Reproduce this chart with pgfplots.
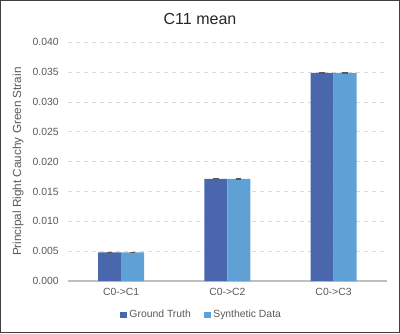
\documentclass[border=0pt]{standalone}
\usepackage{pgfplots}
\pgfplotsset{compat=1.18}
\usepackage{fontspec}
\setmainfont{Liberation Sans}
\definecolor{gt}{HTML}{4A66AC}
\definecolor{sd}{HTML}{5FA0D5}
\definecolor{txt}{HTML}{595959}
\definecolor{grd}{HTML}{D9D9D9}
\definecolor{axl}{HTML}{BFBFBF}
\begin{document}
\begin{tikzpicture}[x=1pt,y=1pt]
\useasboundingbox (0,0) rectangle (300,249.75);
\draw[black!75, line width=0.75pt] (0.4,0.4) rectangle (299.6,249.35);
\node[font=\fontsize{12}{14}\selectfont, text=black!85] at (150,235.5) {C11 mean};
\begin{axis}[
  at={(51pt,39pt)}, anchor=south west,
  scale only axis, width=239pt, height=179pt,
  ybar, bar width=0.216,
  ymin=0, ymax=0.040, ytick={0,0.005,...,0.040},
  xmin=-0.5, xmax=2.5,
  xtick={0,1,2}, xticklabels={C0->C1,C0->C2,C0->C3},
  major tick length=0pt,
  axis x line=bottom, axis y line=left,
  x axis line style={axl, line width=0.8pt, -},
  y axis line style={draw=none},
  ymajorgrids, grid style={grd, dashed, line width=0.6pt},
  yticklabel style={/pgf/number format/fixed, /pgf/number format/fixed zerofill, /pgf/number format/precision=3, /pgf/number format/assume math mode=true, xshift=-3.5pt},
  scaled y ticks=false,
  tick label style={font=\fontsize{7.8}{9}\selectfont, text=txt},
  xticklabel style={yshift=-2pt},
  ylabel={Principal Right Cauchy Green Strain},
  every axis y label/.style={at={(rel axis cs:-0.157,0.5)}, rotate=90, anchor=center, font=\fontsize{8.8}{10}\selectfont, text=txt},
  legend columns=2,
  legend style={draw=none, fill=none, font=\fontsize{7.8}{9}\selectfont, text=txt,
    at={(rel axis cs:0.4205,-0.1425)}, anchor=center,
    /tikz/every even column/.append style={column sep=8pt}},
  legend image code/.code={\fill[#1] (0pt,-2.4pt) rectangle (4.8pt,2.4pt);},
  error bars/y dir=both, error bars/y explicit,
  error bars/error bar style={black!65, line width=0.6pt},
  error bars/error mark options={black!65, line width=0.6pt, mark size=2pt, rotate=90},
]
\addplot[fill=gt, draw=none, bar shift=-0.108] coordinates {
  (0,0.0048) +- (0,0.00006)
  (1,0.0171) +- (0,0.00006)
  (2,0.0349) +- (0,0.00006)
};
\addplot[fill=sd, draw=none, bar shift=0.108] coordinates {
  (0,0.0048) +- (0,0.00006)
  (1,0.0171) +- (0,0.00006)
  (2,0.0349) +- (0,0.00006)
};
\legend{Ground Truth, Synthetic Data}
\end{axis}
\end{tikzpicture}
\end{document}
